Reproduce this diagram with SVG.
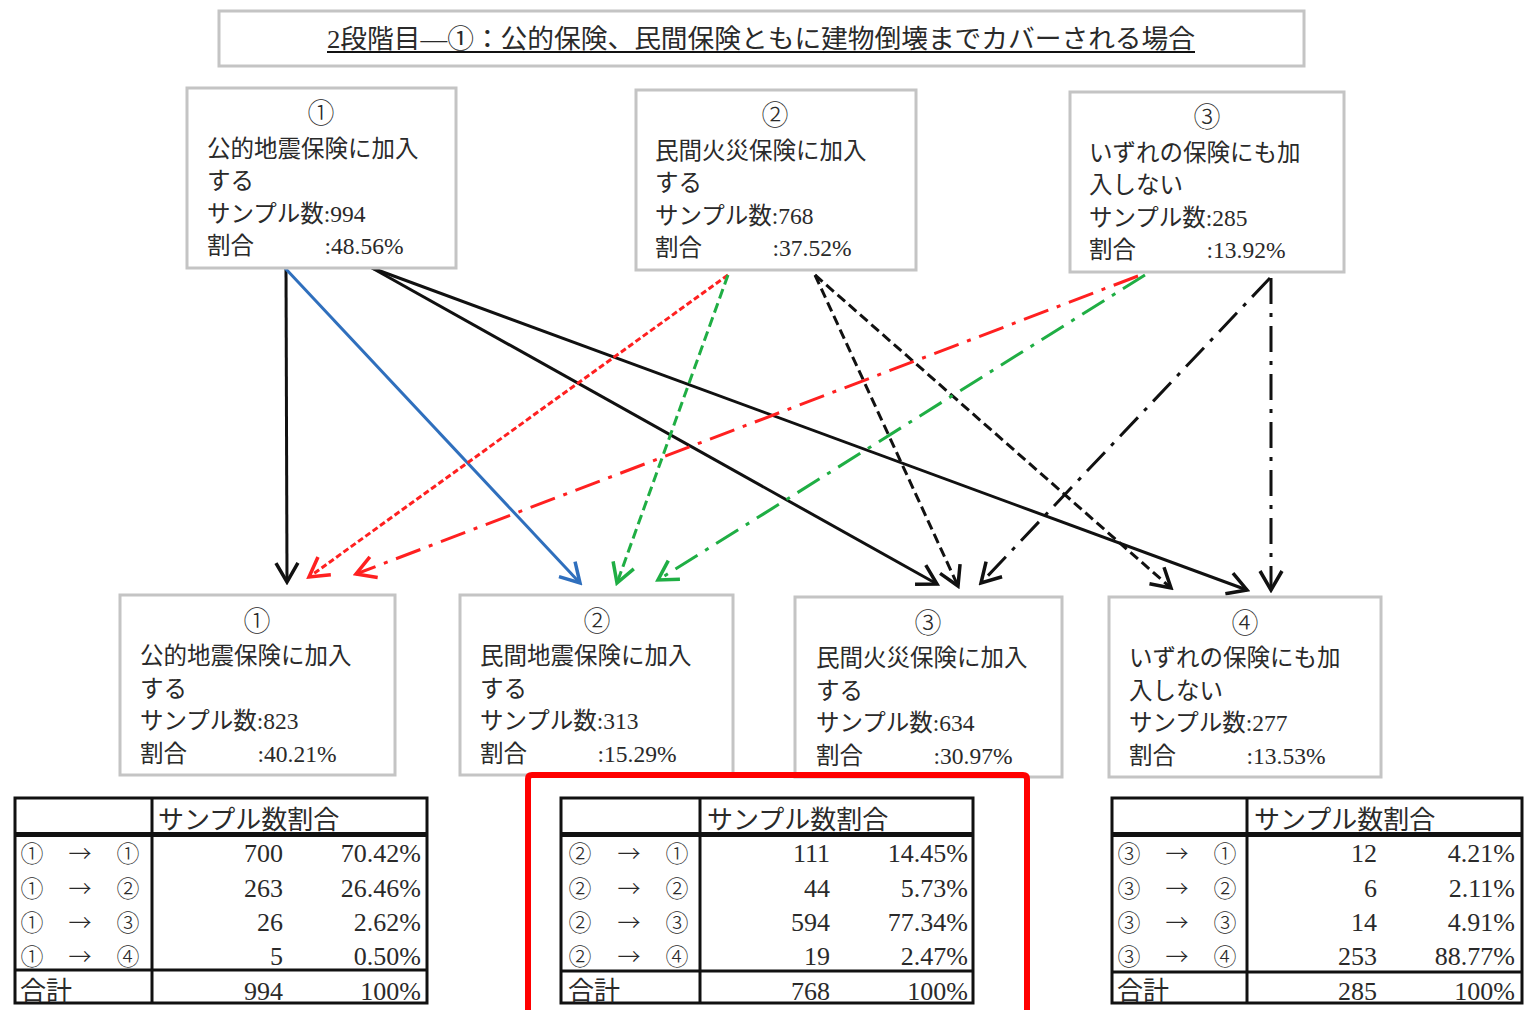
<svg xmlns="http://www.w3.org/2000/svg" width="1526" height="1010" viewBox="0 0 1526 1010">
<style>
text{font-family:"Liberation Serif","Noto Sans CJK JP",serif;fill:#2a2a2a}
.box{fill:#fff;stroke:#c4c4c4;stroke-width:3}
.nt{font-size:23.5px}
.num{font-size:27px;text-anchor:middle;font-family:"Noto Sans CJK JP",sans-serif;font-weight:300}
.tb{fill:none;stroke:#111;stroke-width:3}
.tt{font-size:26px}
.tr{font-size:26px;text-anchor:end}
.tc{font-size:23px;text-anchor:middle;font-family:"Noto Sans CJK JP",sans-serif;font-weight:300}
.c{fill:none;stroke-width:3}
.k{stroke:#111}
.b{stroke:#2f6fbd}
.r{stroke:#ff2020}
.g{stroke:#1fae44}
.dot{stroke-dasharray:6 3}
.dash{stroke-dasharray:10 5}
.dd{stroke-dasharray:26 9 4 9}
</style>
<defs>
<marker id="ak" viewBox="-2 -2 24 26" refX="19" refY="11" markerWidth="24" markerHeight="26" markerUnits="userSpaceOnUse" orient="auto"><path d="M0,0 L19,11 L0,22" fill="none" stroke="#111" stroke-width="3.5"/></marker>
<marker id="ab" viewBox="-2 -2 24 26" refX="19" refY="11" markerWidth="24" markerHeight="26" markerUnits="userSpaceOnUse" orient="auto"><path d="M0,0 L19,11 L0,22" fill="none" stroke="#2f6fbd" stroke-width="3.5"/></marker>
<marker id="ar" viewBox="-2 -2 24 26" refX="19" refY="11" markerWidth="24" markerHeight="26" markerUnits="userSpaceOnUse" orient="auto"><path d="M0,0 L19,11 L0,22" fill="none" stroke="#ff2020" stroke-width="3.5"/></marker>
<marker id="ag" viewBox="-2 -2 24 26" refX="19" refY="11" markerWidth="24" markerHeight="26" markerUnits="userSpaceOnUse" orient="auto"><path d="M0,0 L19,11 L0,22" fill="none" stroke="#1fae44" stroke-width="3.5"/></marker>
</defs>
<rect width="1526" height="1010" fill="#fff"/>

<g id="title">
<rect x="219" y="11" width="1085" height="55" class="box" stroke-width="2.5"/>
<text x="327" y="48" font-size="26" textLength="868" lengthAdjust="spacingAndGlyphs">2段階目―①：公的保険、民間保険ともに建物倒壊までカバーされる場合</text>
<line x1="327" y1="52" x2="1195" y2="52" stroke="#111" stroke-width="2"/>
</g>

<g id="connectors">
<line x1="286" y1="268" x2="287" y2="582" class="c k" marker-end="url(#ak)"/>
<line x1="285" y1="268" x2="580" y2="583" class="c b" marker-end="url(#ab)"/>
<line x1="372" y1="268" x2="937" y2="584" class="c k" marker-end="url(#ak)"/>
<line x1="372" y1="268" x2="1247" y2="590" class="c k" marker-end="url(#ak)"/>
<line x1="728" y1="275" x2="309" y2="577" class="c r dot" marker-end="url(#ar)"/>
<line x1="728" y1="275" x2="617" y2="583" class="c g dash" marker-end="url(#ag)"/>
<line x1="815" y1="275" x2="958" y2="586" class="c k dash" marker-end="url(#ak)"/>
<line x1="815" y1="275" x2="1171" y2="588" class="c k dash" marker-end="url(#ak)"/>
<line x1="1138" y1="276" x2="356" y2="574" class="c r dd" marker-end="url(#ar)"/>
<line x1="1145" y1="275" x2="658" y2="580" class="c g dd" marker-end="url(#ag)"/>
<line x1="1270" y1="278" x2="981" y2="583" class="c k dd" marker-end="url(#ak)"/>
<line x1="1271" y1="278" x2="1271" y2="590" class="c k dd" marker-end="url(#ak)"/>
</g>

<g id="t1">
<rect x="187" y="88" width="269" height="180" class="box"/>
<text x="321" y="123" class="num">①</text>
<text x="207" y="157" class="nt">公的地震保険に加入</text>
<text x="207" y="189" class="nt">する</text>
<text x="207" y="222" class="nt">サンプル数:994</text>
<text x="207" y="254" class="nt">割合　　　:48.56%</text>
</g>
<g id="t2">
<rect x="636" y="90" width="280" height="180" class="box"/>
<text x="775" y="125" class="num">②</text>
<text x="655" y="159" class="nt">民間火災保険に加入</text>
<text x="655" y="191" class="nt">する</text>
<text x="655" y="224" class="nt">サンプル数:768</text>
<text x="655" y="256" class="nt">割合　　　:37.52%</text>
</g>
<g id="t3">
<rect x="1070" y="92" width="274" height="180" class="box"/>
<text x="1207" y="127" class="num">③</text>
<text x="1089" y="161" class="nt">いずれの保険にも加</text>
<text x="1089" y="193" class="nt">入しない</text>
<text x="1089" y="226" class="nt">サンプル数:285</text>
<text x="1089" y="258" class="nt">割合　　　:13.92%</text>
</g>

<g id="b1">
<rect x="120" y="595" width="275" height="180" class="box"/>
<text x="257" y="631" class="num">①</text>
<text x="140" y="664" class="nt">公的地震保険に加入</text>
<text x="140" y="697" class="nt">する</text>
<text x="140" y="729" class="nt">サンプル数:823</text>
<text x="140" y="762" class="nt">割合　　　:40.21%</text>
</g>
<g id="b2">
<rect x="460" y="595" width="273" height="180" class="box"/>
<text x="597" y="631" class="num">②</text>
<text x="480" y="664" class="nt">民間地震保険に加入</text>
<text x="480" y="697" class="nt">する</text>
<text x="480" y="729" class="nt">サンプル数:313</text>
<text x="480" y="762" class="nt">割合　　　:15.29%</text>
</g>
<g id="b3">
<rect x="795" y="597" width="267" height="180" class="box"/>
<text x="928" y="633" class="num">③</text>
<text x="816" y="666" class="nt">民間火災保険に加入</text>
<text x="816" y="699" class="nt">する</text>
<text x="816" y="731" class="nt">サンプル数:634</text>
<text x="816" y="764" class="nt">割合　　　:30.97%</text>
</g>
<g id="b4">
<rect x="1109" y="597" width="272" height="180" class="box"/>
<text x="1245" y="633" class="num">④</text>
<text x="1129" y="666" class="nt">いずれの保険にも加</text>
<text x="1129" y="699" class="nt">入しない</text>
<text x="1129" y="731" class="nt">サンプル数:277</text>
<text x="1129" y="764" class="nt">割合　　　:13.53%</text>
</g>

<g id="table1">
<rect x="15" y="798" width="412" height="205" class="tb"/>
<line x1="152" y1="798" x2="152" y2="1003" class="tb"/>
<rect x="15" y="832" width="412" height="5" fill="#111"/>
<line x1="15" y1="970" x2="427" y2="970" class="tb" stroke-width="2.5"/>
<text x="158" y="829" class="tt" font-size="27">サンプル数割合</text>
<text x="32" y="862" class="tc">①</text><text x="80" y="862" class="tc">→</text><text x="128" y="862" class="tc">①</text>
<text x="32" y="897" class="tc">①</text><text x="80" y="897" class="tc">→</text><text x="128" y="897" class="tc">②</text>
<text x="32" y="931" class="tc">①</text><text x="80" y="931" class="tc">→</text><text x="128" y="931" class="tc">③</text>
<text x="32" y="965" class="tc">①</text><text x="80" y="965" class="tc">→</text><text x="128" y="965" class="tc">④</text>
<text x="283" y="862" class="tr">700</text><text x="421" y="862" class="tr">70.42%</text>
<text x="283" y="897" class="tr">263</text><text x="421" y="897" class="tr">26.46%</text>
<text x="283" y="931" class="tr">26</text><text x="421" y="931" class="tr">2.62%</text>
<text x="283" y="965" class="tr">5</text><text x="421" y="965" class="tr">0.50%</text>
<text x="20" y="1000" class="tt">合計</text>
<text x="283" y="1000" class="tr">994</text><text x="421" y="1000" class="tr">100%</text>
</g>

<g id="table2">
<rect x="561" y="798" width="412" height="205" class="tb"/>
<line x1="700" y1="798" x2="700" y2="1003" class="tb"/>
<rect x="561" y="832" width="412" height="5" fill="#111"/>
<line x1="561" y1="971" x2="973" y2="971" class="tb" stroke-width="2.5"/>
<text x="707" y="829" class="tt" font-size="27">サンプル数割合</text>
<text x="580" y="862" class="tc">②</text><text x="629" y="862" class="tc">→</text><text x="677" y="862" class="tc">①</text>
<text x="580" y="897" class="tc">②</text><text x="629" y="897" class="tc">→</text><text x="677" y="897" class="tc">②</text>
<text x="580" y="931" class="tc">②</text><text x="629" y="931" class="tc">→</text><text x="677" y="931" class="tc">③</text>
<text x="580" y="965" class="tc">②</text><text x="629" y="965" class="tc">→</text><text x="677" y="965" class="tc">④</text>
<text x="830" y="862" class="tr">111</text><text x="968" y="862" class="tr">14.45%</text>
<text x="830" y="897" class="tr">44</text><text x="968" y="897" class="tr">5.73%</text>
<text x="830" y="931" class="tr">594</text><text x="968" y="931" class="tr">77.34%</text>
<text x="830" y="965" class="tr">19</text><text x="968" y="965" class="tr">2.47%</text>
<text x="568" y="1000" class="tt">合計</text>
<text x="830" y="1000" class="tr">768</text><text x="968" y="1000" class="tr">100%</text>
</g>

<g id="table3">
<rect x="1112" y="798" width="410" height="205" class="tb"/>
<line x1="1247" y1="798" x2="1247" y2="1003" class="tb"/>
<rect x="1112" y="832" width="410" height="5" fill="#111"/>
<line x1="1112" y1="972" x2="1522" y2="972" class="tb" stroke-width="2.5"/>
<text x="1254" y="829" class="tt" font-size="27">サンプル数割合</text>
<text x="1129" y="862" class="tc">③</text><text x="1177" y="862" class="tc">→</text><text x="1225" y="862" class="tc">①</text>
<text x="1129" y="897" class="tc">③</text><text x="1177" y="897" class="tc">→</text><text x="1225" y="897" class="tc">②</text>
<text x="1129" y="931" class="tc">③</text><text x="1177" y="931" class="tc">→</text><text x="1225" y="931" class="tc">③</text>
<text x="1129" y="965" class="tc">③</text><text x="1177" y="965" class="tc">→</text><text x="1225" y="965" class="tc">④</text>
<text x="1377" y="862" class="tr">12</text><text x="1515" y="862" class="tr">4.21%</text>
<text x="1377" y="897" class="tr">6</text><text x="1515" y="897" class="tr">2.11%</text>
<text x="1377" y="931" class="tr">14</text><text x="1515" y="931" class="tr">4.91%</text>
<text x="1377" y="965" class="tr">253</text><text x="1515" y="965" class="tr">88.77%</text>
<text x="1117" y="1000" class="tt">合計</text>
<text x="1377" y="1000" class="tr">285</text><text x="1515" y="1000" class="tr">100%</text>
</g>

<g id="highlight">
<path d="M528,1014 L528,779 Q528,775 532,775 L1023,775 Q1027,775 1027,779 L1027,1014" fill="none" stroke="#ff0000" stroke-width="6"/>
</g>
</svg>
